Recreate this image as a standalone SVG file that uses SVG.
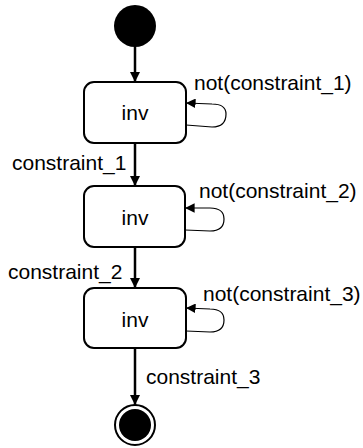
<svg xmlns="http://www.w3.org/2000/svg" width="363" height="448" viewBox="0 0 363 448">
<defs>
<style>
.box{fill:#fff;stroke:#000;stroke-width:2}
.edge{fill:none;stroke:#000;stroke-width:2.5}
.loop{fill:none;stroke:#000;stroke-width:1.2}
text{font-family:"Liberation Sans",Arial,sans-serif;font-size:21px;fill:#000}
.c{text-anchor:middle}
</style>
<marker id="ah" viewBox="0 0 10 10" refX="10" refY="5" markerWidth="4" markerHeight="4.4" markerUnits="strokeWidth" orient="auto"><path d="M0,0 L10,5 L0,10 z" fill="#000"/></marker>
<marker id="ahs" viewBox="0 0 10 10" refX="10" refY="5" markerWidth="8" markerHeight="8" markerUnits="strokeWidth" orient="auto"><path d="M0,0 L10,5 L0,10 z" fill="#000"/></marker>
</defs>
<rect width="363" height="448" fill="#fff"/>
<g id="start"><circle cx="135" cy="26" r="21" fill="#000"/></g>
<g id="state1"><rect class="box" x="84" y="82" width="102" height="61" rx="10"/><text class="c" x="135" y="120">inv</text></g>
<g id="state2"><rect class="box" x="84" y="186" width="101" height="61" rx="10"/><text class="c" x="135" y="225">inv</text></g>
<g id="state3"><rect class="box" x="84" y="288" width="102" height="60" rx="10"/><text class="c" x="135" y="327">inv</text></g>
<g id="end"><circle cx="135" cy="425" r="20" fill="#fff" stroke="#000" stroke-width="2"/><circle cx="135" cy="425" r="16" fill="#000"/></g>
<g id="connectors">
<path class="edge" d="M135,47 L135,82" marker-end="url(#ah)"/>
<path class="edge" d="M135,143 L135,186" marker-end="url(#ah)"/>
<path class="edge" d="M135,247 L135,288" marker-end="url(#ah)"/>
<path class="edge" d="M135,348 L135,405" marker-end="url(#ah)"/>
<path class="loop" d="M186,125 L212,127 Q226,127 226,114 Q226,104 212,104 L186,103" marker-end="url(#ahs)"/>
<path class="loop" d="M185,230 L210,231 Q224,231 224,219 Q224,208 210,208 L185,208" marker-end="url(#ahs)"/>
<path class="loop" d="M186,331 L210,332 Q224,332 224,320 Q224,309 210,309 L186,308" marker-end="url(#ahs)"/>
<text x="194" y="90">not(constraint_1)</text>
<text x="12" y="170">constraint_1</text>
<text x="199" y="198">not(constraint_2)</text>
<text x="8" y="279">constraint_2</text>
<text x="203" y="301">not(constraint_3)</text>
<text x="146" y="384">constraint_3</text>
</g>
</svg>
